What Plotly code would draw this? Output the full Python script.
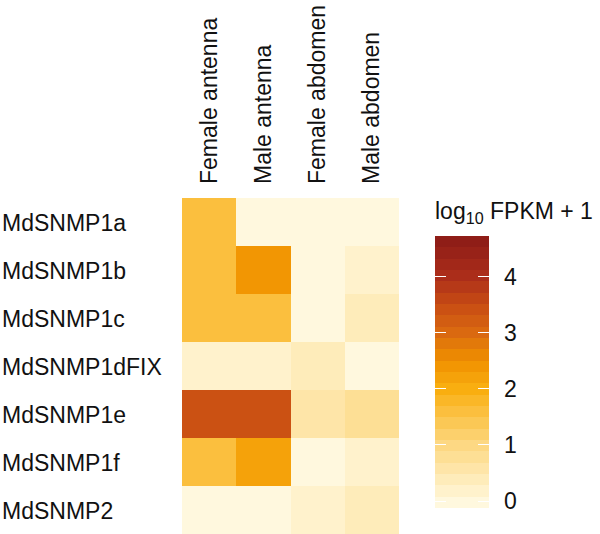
import plotly.graph_objects as go
import numpy as np

genes = ["MdSNMP1a", "MdSNMP1b", "MdSNMP1c", "MdSNMP1dFIX", "MdSNMP1e", "MdSNMP1f", "MdSNMP2"]
tissues = ["Female antenna", "Male antenna", "Female abdomen", "Male abdomen"]

female_antenna = [1.6, 1.6, 1.6, 0.1, 3.4, 1.5, 0.05]
male_antenna = [0.05, 2.5, 1.6, 0.1, 3.4, 2.2, 0.05]
female_abdomen = [0.05, 0.05, 0.02, 0.45, 0.5, 0.05, 0.2]
male_abdomen = [0.05, 0.2, 0.35, 0.05, 0.8, 0.15, 0.45]

colorbar_ticks = [0, 1, 2, 3, 4]

z = np.array([female_antenna, male_antenna, female_abdomen, male_abdomen]).T

zmin, zmax = -0.125, 4.73
anchors = [(-0.125, "#FFFAE6"), (0, "#FFF8DC"), (1, "#FDD882"), (2, "#F9AE10"), (2.5, "#F09000"),
           (3, "#DA6A10"), (3.5, "#C84C14"), (4, "#AC2E1A"), (4.73, "#8A1A17")]

def hex2rgb(h):
    h = h.lstrip("#")
    return [int(h[i:i+2], 16) for i in (0, 2, 4)]

def interp(v):
    for (a, ca), (b, cb) in zip(anchors[:-1], anchors[1:]):
        if a <= v <= b:
            t = (v - a) / (b - a)
            c1, c2 = hex2rgb(ca), hex2rgb(cb)
            return "rgb(%d,%d,%d)" % tuple(round(c1[i] + t * (c2[i] - c1[i])) for i in range(3))
    return anchors[-1][1]

nb = 24
cs = []
band_centers = []
for i in range(nb):
    v = zmin + (i + 0.5) * (zmax - zmin) / nb
    band_centers.append(v)
    col = interp(v)
    cs.append([i / nb, col])
    cs.append([(i + 1) / nb, col])

FS = 23
FONT = "Liberation Sans, Arial, sans-serif"

# figure geometry (page body margin removed below, so figure px == page px)
W, H = 600, 534
ML, MR, MT, MB = 182, 0, 198, 0
PW, PH = W - ML - MR, H - MT - MB
HM_W = 217
CB_LEFT, CB_W = 435, 54
CB_TOP, CB_BOT = 236, 508

def px_x(px):
    return (px - ML) / PW

def px_y(py):
    return (H - MB - py) / PH

fig = go.Figure()
fig.add_trace(go.Heatmap(
    z=z, x=tissues, y=genes, zmin=zmin, zmax=zmax, colorscale=cs, showscale=False,
    xaxis="x", yaxis="y"))

# colour key drawn as its own heatmap column
fig.add_trace(go.Heatmap(
    z=[[v] for v in band_centers], x=[0], y=band_centers, zmin=zmin, zmax=zmax,
    colorscale=cs, showscale=False, xaxis="x2", yaxis="y2", hoverinfo="skip"))

fig.add_annotation(text="log<sub>10</sub> FPKM + 1", xref="paper", yref="paper",
                   x=px_x(CB_LEFT - 2), y=px_y(212), xanchor="left", yanchor="middle",
                   showarrow=False, font=dict(size=FS, color="#111"))

for g in genes:
    fig.add_annotation(text=g, xref="paper", yref="y", x=px_x(0), y=g, xanchor="left",
                       yshift=-1, showarrow=False, font=dict(size=FS, color="#111"))

fig.update_layout(
    width=W, height=H, margin=dict(l=ML, r=MR, t=MT, b=MB, autoexpand=False),
    paper_bgcolor="white", plot_bgcolor="white", font=dict(family=FONT),
    xaxis=dict(domain=[0, HM_W / PW], side="top", tickangle=-90, showgrid=False,
               zeroline=False, showline=False, ticks="", ticklabelstandoff=13,
               automargin=False, tickfont=dict(size=FS, color="#111")),
    yaxis=dict(domain=[0, 1], autorange="reversed", showticklabels=False, showgrid=False,
               zeroline=False, showline=False, ticks="", automargin=False),
    xaxis2=dict(domain=[px_x(CB_LEFT), px_x(CB_LEFT + CB_W)], anchor="y2", range=[-0.5, 0.5],
                visible=False),
    yaxis2=dict(domain=[px_y(CB_BOT), px_y(CB_TOP)], anchor="x2", side="right",
                range=[zmin, zmax], tickvals=colorbar_ticks, ticks="inside", ticklen=11,
                tickcolor="white", tickwidth=1, mirror="ticks", showline=False,
                showgrid=False, zeroline=False, ticklabelstandoff=14, automargin=False,
                tickfont=dict(size=FS, color="#111")),
)

fig.write_html("out.html", config={"displayModeBar": False},
               post_script="document.body.style.margin='0';document.body.style.overflow='hidden';")
